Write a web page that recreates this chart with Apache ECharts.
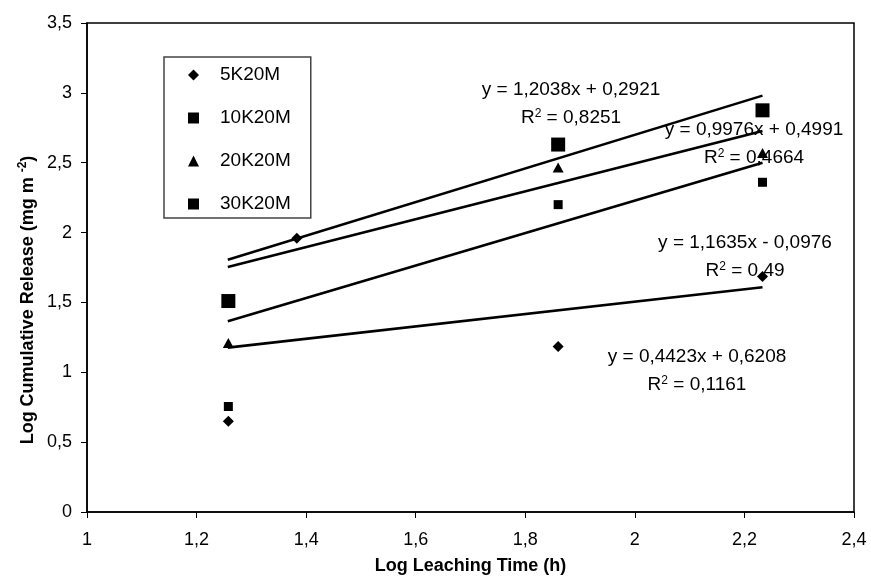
<!DOCTYPE html>
<html>
<head>
<meta charset="utf-8">
<script src="https://cdn.jsdelivr.net/npm/echarts@6/dist/echarts.min.js"></script>
<style>
  html, body { margin: 0; padding: 0; background: #fff; }
  #chart { width: 871px; height: 586px; }
</style>
</head>
<body>
<div id="chart"></div>
<script>
// measured points
var names = ['5K20M', '10K20M', '20K20M', '30K20M'];
var x5 = [1.258, 1.383, 1.86, 2.233];
var y5 = [0.65, 1.96, 1.185, 1.685];
var xs = [1.258, 1.86, 2.233];
var y10 = [0.755, 2.20, 2.36];
var y20 = [1.21, 2.465, 2.57];
var y30 = [1.51, 2.63, 2.875];

// trendlines (from the equations on the chart)
var slopes = [1.2038, 0.9976, 1.1635, 0.4423];
var intercepts = [0.2921, 0.4991, -0.0976, 0.6208];
var lineX = [1.257, 2.233];

var eqTexts = ['y = 1,2038x + 0,2921', 'y = 0,9976x + 0,4991', 'y = 1,1635x - 0,0976', 'y = 0,4423x + 0,6208'];
var r2Texts = ['0,8251', '0,4664', '0,49', '0,1161'];

var FONT = '"Liberation Sans", Arial, sans-serif';

function pairs(xv, yv) {
    var out = [];
    for (var i = 0; i < xv.length; i++) out.push([xv[i], yv[i]]);
    return out;
}
function comma(v) {
    return String(Math.round(v * 10) / 10).replace('.', ',');
}

var series = [];
// trendlines first so markers sit on top
for (var k = 0; k < slopes.length; k++) {
    series.push({
        type: 'line',
        name: 'trend' + k,
        data: lineX.map(function (x) { return [x, slopes[k] * x + intercepts[k]]; }),
        showSymbol: false,
        symbol: 'none',
        lineStyle: { color: '#000', width: 2.6 },
        silent: true,
        z: 2
    });
}
var markers = [
    { sym: 'diamond', size: [11, 11], data: pairs(x5, y5) },
    { sym: 'rect', size: [9, 9], data: pairs(xs, y10) },
    { sym: 'triangle', size: [11, 10], data: pairs(xs, y20) },
    { sym: 'rect', size: [14, 14], data: pairs(xs, y30) }
];
markers.forEach(function (m, i) {
    series.push({
        type: 'scatter',
        name: names[i],
        symbol: m.sym,
        symbolSize: m.size,
        data: m.data,
        itemStyle: { color: '#000', opacity: 1 },
        z: 3
    });
});

// equation labels
var eqPos = [[571, 90], [754, 130], [745, 243], [697, 357]];
var graphics = [];
for (var e = 0; e < eqTexts.length; e++) {
    graphics.push({
        type: 'text', x: eqPos[e][0], y: eqPos[e][1], z: 10,
        style: { text: eqTexts[e], font: '19px ' + FONT, fill: '#000', textAlign: 'center', textVerticalAlign: 'middle' }
    });
    graphics.push({
        type: 'text', x: eqPos[e][0], y: eqPos[e][1] + 28, z: 10,
        style: {
            text: 'R{sup|2} = ' + r2Texts[e], font: '19px ' + FONT, fill: '#000',
            textAlign: 'center', textVerticalAlign: 'middle',
            rich: { sup: { fontSize: 12, fontFamily: FONT, padding: [0, 0, 9, 0] } }
        }
    });
}
graphics.push({
    type: 'text', x: 28, y: 300, rotation: Math.PI / 2, z: 10,
    style: {
        text: 'Log Cumulative Release (mg m {sup|-2})', fill: '#000',
        font: 'bold 18px ' + FONT, textAlign: 'center', textVerticalAlign: 'middle',
        rich: { sup: { fontSize: 12, fontWeight: 'bold', fontFamily: FONT, padding: [0, 0, 10, 0] } }
    }
});

var chart = echarts.init(document.getElementById('chart'));
chart.setOption({
    animation: false,
    backgroundColor: '#fff',
    grid: { left: 87, right: 17, top: 23, bottom: 74, show: true, borderColor: '#000', borderWidth: 1.5 },
    legend: {
        data: names,
        orient: 'vertical',
        left: 164, top: 57,
        padding: [8, 20, 4, 24],
        itemWidth: 11, itemHeight: 11,
        itemGap: 23,
        borderColor: '#444', borderWidth: 1.5,
        textStyle: { fontFamily: FONT, fontSize: 19, color: '#000', lineHeight: 20, padding: [0, 0, 0, 16] }
    },
    xAxis: {
        type: 'value', min: 1, max: 2.4, interval: 0.2,
        name: 'Log Leaching Time (h)', nameLocation: 'middle', nameGap: 45,
        nameTextStyle: { fontFamily: FONT, fontSize: 18, fontWeight: 'bold', color: '#000' },
        axisLine: { onZero: false, lineStyle: { color: '#000', width: 1.5 } },
        axisTick: { inside: false, length: 6, lineStyle: { color: '#000' } },
        axisLabel: { formatter: comma, fontFamily: FONT, fontSize: 18, color: '#000', margin: 19 },
        splitLine: { show: false }
    },
    yAxis: {
        type: 'value', min: 0, max: 3.5, interval: 0.5,
        axisLine: { show: true, onZero: false, lineStyle: { color: '#000', width: 1.5 } },
        axisTick: { show: true, inside: false, length: 6, lineStyle: { color: '#000' } },
        axisLabel: { formatter: comma, fontFamily: FONT, fontSize: 18, color: '#000', margin: 15 },
        splitLine: { show: false }
    },
    series: series,
    graphic: graphics
});
</script>
</body>
</html>
